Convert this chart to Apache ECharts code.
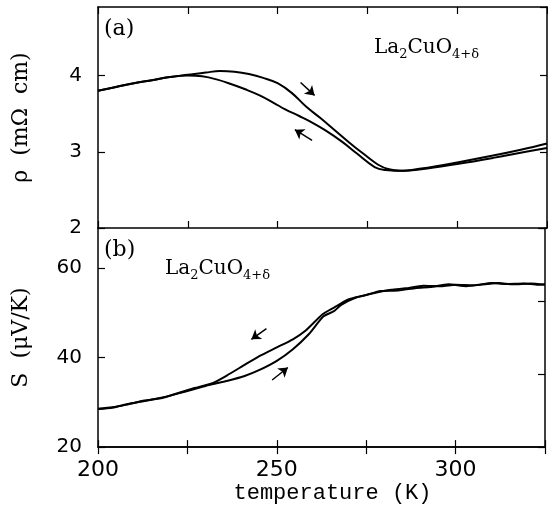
<!DOCTYPE html>
<html>
<head>
<meta charset="utf-8">
<script src="https://cdn.jsdelivr.net/npm/echarts@6/dist/echarts.min.js"></script>
<style>
  html, body { margin: 0; padding: 0; background: #fff; }
  #chart { width: 548px; height: 505px; }
</style>
</head>
<body>
<div id="chart"></div>
<script>
// panel (a): resistivity, heating (upper branch) and cooling (lower branch)
const rhoHeatT = [200, 205, 210, 215, 220, 225, 230, 234, 238, 242, 246, 250, 254, 258, 262, 266, 270, 274, 278, 281, 284, 290, 300, 310, 318, 325];
const rhoHeat  = [3.80, 3.85, 3.90, 3.94, 3.98, 4.01, 4.04, 4.06, 4.05, 4.02, 3.97, 3.90, 3.77, 3.59, 3.44, 3.28, 3.12, 2.97, 2.83, 2.77, 2.75, 2.78, 2.86, 2.95, 3.03, 3.11];
const rhoCoolT = [325, 318, 310, 300, 290, 284, 280, 277, 272, 268, 263, 259, 256, 252, 249, 245, 241, 237, 233, 229, 225, 220, 215, 210, 205, 200];
const rhoCool  = [3.05, 2.99, 2.92, 2.84, 2.77, 2.75, 2.76, 2.80, 2.98, 3.13, 3.29, 3.40, 3.47, 3.56, 3.64, 3.74, 3.82, 3.89, 3.95, 3.99, 4.00, 3.98, 3.94, 3.90, 3.85, 3.80];

// panel (b): thermopower
const sHeatT = [200, 204, 208, 213, 218, 222, 227, 231, 236, 241, 245, 250, 254.5, 259, 263, 266, 268, 272, 277, 282, 286, 291, 296, 300, 305, 310, 314, 319, 323, 325];
const sHeat  = [28.5, 28.8, 29.6, 30.3, 31.1, 31.9, 33.0, 33.9, 34.8, 35.9, 37.2, 39.3, 41.9, 45.3, 49.2, 50.4, 51.8, 53.4, 54.4, 55.2, 55.5, 56.1, 56.0, 56.3, 56.2, 56.7, 56.5, 56.6, 56.3, 56.4];
const sCoolT = [325, 321, 316, 312, 307, 303, 298, 293, 289, 284, 279, 275, 270, 266, 262.8, 258, 254.5, 250, 245, 240.6, 236, 232, 227, 222, 218, 213, 208, 204, 200];
const sCool  = [56.3, 56.6, 56.4, 56.7, 56.3, 56.0, 56.4, 55.8, 55.6, 55.0, 54.9, 54.0, 53.0, 51.2, 49.7, 46.0, 44.1, 42.3, 40.3, 38.2, 36.0, 34.3, 33.2, 32.0, 31.0, 30.4, 29.5, 28.9, 28.6];

// arrows [fromT, fromY, toT, toY]
const rhoArrows = [[256.4, 3.91, 260.3, 3.74], [259.6, 3.15, 254.8, 3.29]];
const sArrows   = [[247.1, 46.5, 242.9, 44.1], [248.7, 35.0, 253.1, 37.8]];

const xTicks = [200, 250, 300];

function zip(xs, ys) {
  return xs.map((x, i) => [x, ys[i]]);
}
function arrows(list) {
  return list.map(a => [{ coord: [a[0], a[1]] }, { coord: [a[2], a[3]] }]);
}

const chart = echarts.init(document.getElementById('chart'), null, { renderer: 'canvas' });

const lineAxis = { lineStyle: { color: '#000', width: 1.5 } };
const tickIn = { inside: true, length: 7, lineStyle: { color: '#000', width: 1.2 } };
const serif = 'DejaVu Serif';
const sans = 'DejaVu Sans';

function xAx(grid, pos, labels) {
  return {
    type: 'value', gridIndex: grid, position: pos,
    min: 200, max: 325, interval: 25,
    axisLine: lineAxis, axisTick: tickIn, splitLine: { show: false },
    axisLabel: {
      show: labels, color: '#000', fontFamily: sans, fontSize: 22, margin: 12,
      formatter: v => (xTicks.indexOf(v) >= 0 ? String(v) : '')
    }
  };
}

const markStyle = {
  silent: true, symbol: ['none', 'arrow'], symbolSize: 9,
  lineStyle: { color: '#000', width: 1.5, type: 'solid' },
  label: { show: false }, emphasis: { disabled: true }
};

const formula = {
  text: '{n|La}{s|2}{n|CuO}{s|4+δ}',
  rich: {
    n: { fontFamily: serif, fontSize: 20, fill: '#000', lineHeight: 26, verticalAlign: 'middle' },
    s: { fontFamily: serif, fontSize: 13, fill: '#000', lineHeight: 14, verticalAlign: 'bottom' }
  }
};

const option = {
  backgroundColor: '#fff',
  animation: false,
  grid: [
    { left: 98, right: 1, top: 7, height: 221 },
    { left: 98, right: 1, top: 228, height: 220 }
  ],
  xAxis: [
    xAx(0, 'bottom', false),
    xAx(0, 'top', false),
    xAx(1, 'top', false),
    Object.assign(xAx(1, 'bottom', true), {
      name: 'temperature (K)', nameLocation: 'middle', nameGap: 33,
      nameTextStyle: { color: '#000', fontFamily: 'Liberation Mono', fontSize: 22, padding: [0, 0, 0, 22] }
    })
  ],
  yAxis: [
    {
      type: 'value', gridIndex: 0, position: 'left', min: 2, max: 4.9, interval: 1,
      axisLine: lineAxis, axisTick: tickIn, splitLine: { show: false },
      axisLabel: { color: '#000', fontFamily: sans, fontSize: 20, margin: 16, showMaxLabel: false },
      name: 'ρ  (mΩ  cm)', nameLocation: 'middle', nameGap: 66,
      nameTextStyle: { color: '#000', fontFamily: serif, fontSize: 22 }
    },
    {
      type: 'value', gridIndex: 0, position: 'right', min: 2, max: 4.9, interval: 1,
      axisLine: lineAxis, axisTick: tickIn, axisLabel: { show: false }, splitLine: { show: false }
    },
    {
      type: 'value', gridIndex: 1, position: 'left', min: 20, max: 69, interval: 20,
      axisLine: lineAxis, axisTick: tickIn, splitLine: { show: false },
      axisLabel: { color: '#000', fontFamily: sans, fontSize: 20, margin: 16, showMaxLabel: false },
      name: 'S  (μV/K)', nameLocation: 'middle', nameGap: 66,
      nameTextStyle: { color: '#000', fontFamily: serif, fontSize: 22 }
    },
    {
      // right-hand ticks of panel (b) sit at thirds of the frame
      type: 'value', gridIndex: 1, position: 'right', min: 0, max: 3, interval: 1,
      axisLine: lineAxis, axisTick: tickIn, axisLabel: { show: false }, splitLine: { show: false }
    }
  ],
  series: [
    {
      name: 'rho heating', type: 'line', xAxisIndex: 0, yAxisIndex: 0,
      data: zip(rhoHeatT, rhoHeat), smooth: 0.4, showSymbol: false,
      lineStyle: { color: '#000', width: 2 },
      markLine: Object.assign({ data: arrows(rhoArrows) }, markStyle)
    },
    {
      name: 'rho cooling', type: 'line', xAxisIndex: 0, yAxisIndex: 0,
      data: zip(rhoCoolT, rhoCool), smooth: 0.4, showSymbol: false,
      lineStyle: { color: '#000', width: 2 }
    },
    {
      name: 'S heating', type: 'line', xAxisIndex: 3, yAxisIndex: 2,
      data: zip(sHeatT, sHeat), smooth: 0.2, showSymbol: false,
      lineStyle: { color: '#000', width: 2 },
      markLine: Object.assign({ data: arrows(sArrows) }, markStyle)
    },
    {
      name: 'S cooling', type: 'line', xAxisIndex: 3, yAxisIndex: 2,
      data: zip(sCoolT, sCool), smooth: 0.2, showSymbol: false,
      lineStyle: { color: '#000', width: 2 }
    }
  ],
  graphic: [
    { type: 'text', left: 104, top: 18, style: { text: '(a)', fill: '#000', font: '22px "DejaVu Serif"' } },
    { type: 'text', left: 104, top: 239, style: { text: '(b)', fill: '#000', font: '22px "DejaVu Serif"' } },
    { type: 'text', left: 374, top: 38, style: formula },
    { type: 'text', left: 165, top: 259, style: formula }
  ]
};

chart.setOption(option);
</script>
</body>
</html>
